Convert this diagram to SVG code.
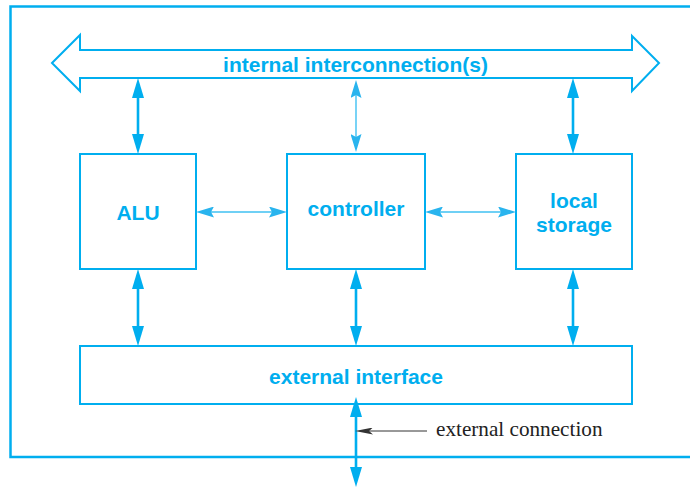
<svg xmlns="http://www.w3.org/2000/svg" width="690" height="487" viewBox="0 0 690 487">
<style>
.box{fill:#fff;stroke:#00aeef;stroke-width:2}
.lbl{font-family:"Liberation Sans",Arial,sans-serif;font-weight:bold;font-size:21px;fill:#00aeef;text-anchor:middle}
.thick{stroke:#00aeef;stroke-width:2.6;fill:none;marker-start:url(#hk);marker-end:url(#hk)}
.thin{stroke:#3fc0f2;stroke-width:1.4;fill:none;marker-start:url(#hn);marker-end:url(#hn)}
</style>
<defs>
<marker id="hk" viewBox="0 0 20 12" refX="8" refY="6" markerWidth="20" markerHeight="12" markerUnits="userSpaceOnUse" orient="auto-start-reverse">
<path d="M0,0 L20,6 L0,12 Z" fill="#00aeef"/>
</marker>
<marker id="hn" viewBox="0 0 18 11" refX="8" refY="5.5" markerWidth="18" markerHeight="11" markerUnits="userSpaceOnUse" orient="auto-start-reverse">
<path d="M0,0 L18,5.5 L0,11 L3,5.5 Z" fill="#29b4ee"/>
</marker>
<marker id="hg" viewBox="0 0 18 7" refX="4" refY="3.5" markerWidth="18" markerHeight="7" markerUnits="userSpaceOnUse" orient="auto">
<path d="M0,0 L18,3.5 L0,7 L4,3.5 Z" fill="#333"/>
</marker>
</defs>
<rect width="690" height="487" fill="#fff"/>
<path id="frame" d="M694,6.5 H10.5 V457 H694" fill="none" stroke="#00aeef" stroke-width="2.5"/>
<g id="bus">
<polygon points="52,63 80,35 80,50 632,50 632,36 659,63 632,91 632,78 80,78 80,91" fill="#fff" stroke="#00aeef" stroke-width="2"/>
<text class="lbl" x="355.5" y="72">internal interconnection(s)</text>
</g>
<g id="alu">
<rect class="box" x="80" y="154" width="116" height="115"/>
<text class="lbl" x="138" y="220">ALU</text>
</g>
<g id="controller">
<rect class="box" x="287" y="154" width="138" height="115"/>
<text class="lbl" x="356" y="216">controller</text>
</g>
<g id="storage">
<rect class="box" x="516" y="154" width="116" height="115"/>
<text class="lbl" x="574" y="208">local</text>
<text class="lbl" x="574" y="232">storage</text>
</g>
<g id="interface">
<rect class="box" x="80" y="346" width="552" height="58"/>
<text class="lbl" x="356" y="384">external interface</text>
</g>
<g id="connectors">
<line class="thick" x1="138" y1="90" x2="138" y2="142"/>
<line class="thin" x1="356" y1="90" x2="356" y2="142"/>
<line class="thick" x1="573" y1="90" x2="573" y2="142"/>
<line class="thick" x1="138" y1="281" x2="138" y2="334"/>
<line class="thick" x1="356" y1="281" x2="356" y2="334"/>
<line class="thick" x1="573" y1="281" x2="573" y2="334"/>
<line class="thin" x1="206" y1="212" x2="277" y2="212"/>
<line class="thin" x1="435" y1="212" x2="506" y2="212"/>
<line class="thick" x1="356" y1="409" x2="356" y2="475"/>
<line x1="427" y1="431" x2="369" y2="431" stroke="#333" stroke-width="1" marker-end="url(#hg)"/>
</g>
<text x="436" y="436" font-family="'Liberation Serif','Times New Roman',serif" font-size="21.2" fill="#222">external connection</text>
</svg>
